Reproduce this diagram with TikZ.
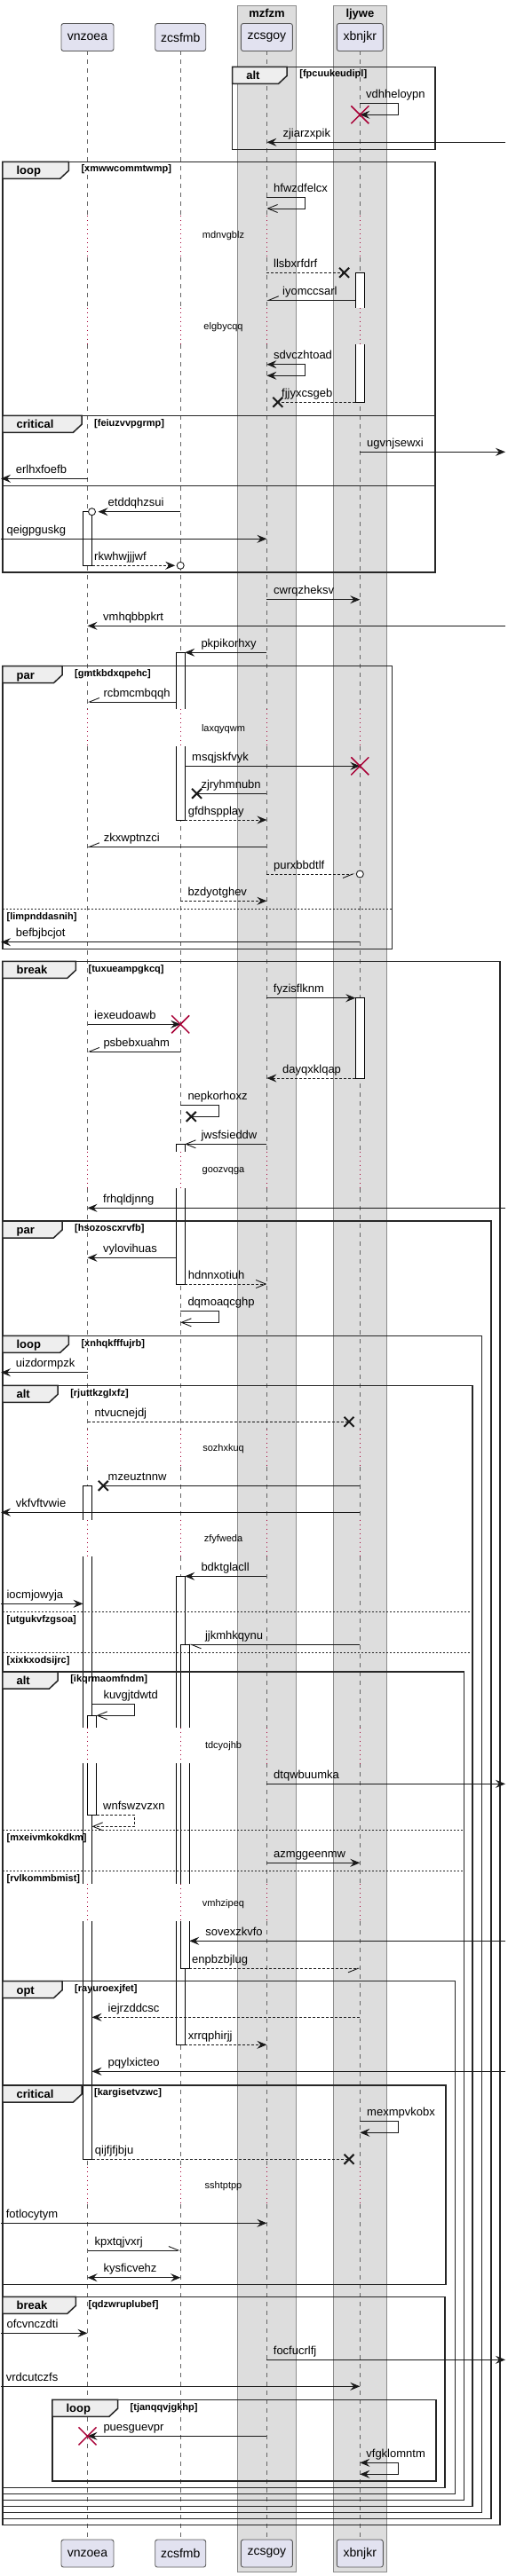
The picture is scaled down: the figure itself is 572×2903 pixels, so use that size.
\documentclass[tikz,border=0pt]{standalone}
\usepackage{fontspec}
\setmainfont{Liberation Sans}
\usetikzlibrary{arrows.meta}
\definecolor{partfill}{HTML}{E2E2F0}
\definecolor{grpfill}{HTML}{DDDDDD}
\definecolor{tabfill}{HTML}{EEEEEE}
\definecolor{crim}{HTML}{A80036}

\begin{document}
\begin{tikzpicture}[x=1pt,y=-1pt,
  >={Stealth[length=11pt,width=9pt,inset=4pt]},
  grp/.style={draw=black!45,fill=grpfill,line width=1pt},
  part/.style={draw=black!65,fill=partfill,line width=0.9pt,rounded corners=2.5pt,
    minimum height=31pt,inner sep=0pt,font=\fontsize{14}{16}\selectfont},
  ttl/.style={anchor=base,inner sep=0pt,font=\bfseries\fontsize{13}{15}\selectfont},
  life/.style={draw=black!60,line width=0.9pt,dash pattern=on 5pt off 5pt},
  delay/.style={draw=crim,line width=1pt,dash pattern=on 1pt off 4pt},
  dly/.style={inner sep=0pt,font=\fontsize{11}{13}\selectfont},
  fragbox/.style={draw=black!85,line width=1.5pt},
  tab/.style={draw=black!85,fill=tabfill,line width=1.5pt},
  sepline/.style={draw=black!85,line width=0.9pt,dash pattern=on 2pt off 2pt},
  kind/.style={anchor=base west,inner sep=0pt,font=\bfseries\fontsize{13}{15}\selectfont},
  cond/.style={anchor=base west,inner sep=0pt,font=\bfseries\fontsize{11}{13}\selectfont},
  actbar/.style={draw=black,fill=white,line width=0.9pt},
  barline/.style={draw=black,line width=0.9pt},
  msg/.style={draw=black!90,line width=0.9pt,->},
  plain/.style={draw=black!90,line width=0.9pt},
  ret/.style={dash pattern=on 3pt off 2pt},
  openhead/.style={-{Straight Barb[length=11pt,width=9pt]}},
  halfl/.style={-{Straight Barb[length=11pt,width=9pt,left]}},
  halfr/.style={-{Straight Barb[length=11pt,width=9pt,right]}},
  twoway/.style={<->},
  circ/.style={draw=black!90,fill=white,line width=0.9pt},
  kill/.style={draw=crim,line width=1.5pt},
  lost/.style={draw=black!90,line width=2pt},
  lbl/.style={anchor=base west,inner sep=0pt,font=\fontsize{13}{15}\selectfont}]
\useasboundingbox (0,0) rectangle (572,2903);
% boxes
\draw[grp] (267.6,6.3) rectangle (333.5,2898.3);
\draw[grp] (375.8,6.3) rectangle (435,2898.3);
\node[ttl] (mzfzm) at (300.5,19.5) {mzfzm};
\node[ttl] (ljywe) at (405.4,19.5) {ljywe};
% participants
\node[part,minimum width=59pt] (vnzoea) at (98.5,42) {vnzoea};
\node[part,minimum width=57pt] (zcsfmb) at (203.2,42) {zcsfmb};
\node[part,minimum width=58pt] (zcsgoy) at (300.4,42) {zcsgoy};
\node[part,minimum width=52pt] (xbnjkr) at (405.3,42) {xbnjkr};
\node[part,minimum width=59pt] (vnzoea-b) at (98.5,2877.5) {vnzoea};
\node[part,minimum width=57pt] (zcsfmb-b) at (203.2,2877.5) {zcsfmb};
\node[part,minimum width=58pt] (zcsgoy-b) at (300.4,2877.5) {zcsgoy};
\node[part,minimum width=52pt] (xbnjkr-b) at (405.3,2877.5) {xbnjkr};
\coordinate (lft) at (1,0);
\coordinate (rgt) at (569,0);
% lifelines
\foreach \p in {vnzoea,zcsfmb,zcsgoy,xbnjkr}{
  \coordinate (\p-l) at ([xshift=-5pt]\p.center);
  \coordinate (\p-r) at ([xshift=5pt]\p.center);
  \coordinate (\p-rr) at ([xshift=10pt]\p.center);
  \foreach \a/\b in {57.3/243.3,290/346.7,388.3/799.3,841/1297.6,1339/1610.6,
      1652.6/1712.6,1754/1946.7,1987.3/2123.3,2165/2441.6,2484/2861.7}
    \draw[life] (\p |- 0,\a) -- (\p |- 0,\b);
}
% delays
\foreach \a/\b/\t/\m [count=\i] in {243.3/290/265.7/mdnvgblz,346.7/388.3/368.7/elgbycqq,
    799.3/841/821.3/laxqyqwm,1297.6/1339/1319.3/goozvqga,1610.6/1652.6/1632.3/sozhxkuq,
    1712.6/1754/1734.3/zfyfweda,1946.7/1987.3/1967.3/tdcyojhb,2123.3/2165/2145.3/vmhzipeq,
    2441.6/2484/2463.3/sshtptpp}{
  \foreach \p in {vnzoea,zcsfmb,zcsgoy,xbnjkr}
    \draw[delay] (\p |- 0,\a) -- (\p |- 0,\b);
  \node[dly] (d\i) at (251.5,\t) {\m};
}
% activations
\fill[white] (400.3,307.3) rectangle (410.3,346.7);
\draw[barline] (400.3,346.7) |- (410.3,307.3) -- (410.3,346.7);
\fill[white] (400.3,388.3) rectangle (410.3,453.3);
\draw[barline] (400.3,388.3) |- (410.3,453.3) -- (410.3,388.3);
\draw[actbar] (93.5,576.7) rectangle (103.5,637.3);
\fill[white] (198.2,735.3) rectangle (208.2,799.3);
\draw[barline] (198.2,799.3) |- (208.2,735.3) -- (208.2,799.3);
\fill[white] (198.2,841) rectangle (208.2,924);
\draw[barline] (198.2,841) |- (208.2,924) -- (208.2,841);
\draw[actbar] (400.3,1124.7) rectangle (410.3,1215);
\fill[white] (198.2,1289.3) rectangle (208.2,1297.6);
\draw[barline] (198.2,1297.6) |- (208.2,1289.3) -- (208.2,1297.6);
\fill[white] (198.2,1339) rectangle (208.2,1447);
\draw[barline] (198.2,1339) |- (208.2,1447) -- (208.2,1339);
% vnzoea long bar
\fill[white] (93.5,1674.3) rectangle (103.5,1712.6);
\draw[barline] (93.5,1712.6) |- (103.5,1674.3) -- (103.5,1712.6);
\fill[white] (93.5,1754) rectangle (103.5,1946.7);
\draw[barline] (93.5,1754) -- (93.5,1946.7) (103.5,1754) -- (103.5,1946.7);
\fill[white] (93.5,1987.3) rectangle (103.5,2123.3);
\draw[barline] (93.5,1987.3) -- (93.5,2123.3) (103.5,1987.3) -- (103.5,2123.3);
\fill[white] (93.5,2165) rectangle (103.5,2433.3);
\draw[barline] (93.5,2165) |- (103.5,2433.3) -- (103.5,2165);
\fill[white] (98.5,1933.3) rectangle (108.5,1946.7);
\draw[barline] (98.5,1946.7) |- (108.5,1933.3) -- (108.5,1946.7);
\fill[white] (98.5,1987.3) rectangle (108.5,2045.7);
\draw[barline] (98.5,1987.3) |- (108.5,2045.7) -- (108.5,1987.3);
% zcsfmb long bar
\fill[white] (198.2,1776.3) rectangle (208.2,1946.7);
\draw[barline] (198.2,1946.7) |- (208.2,1776.3) -- (208.2,1946.7);
\fill[white] (198.2,1987.3) rectangle (208.2,2123.3);
\draw[barline] (198.2,1987.3) -- (198.2,2123.3) (208.2,1987.3) -- (208.2,2123.3);
\fill[white] (198.2,2165) rectangle (208.2,2304.3);
\draw[barline] (198.2,2165) |- (208.2,2304.3) -- (208.2,2165);
\fill[white] (203.2,1853.3) rectangle (213.2,1946.7);
\draw[barline] (203.2,1946.7) |- (213.2,1853.3) -- (213.2,1946.7);
\fill[white] (203.2,1987.3) rectangle (213.2,2123.3);
\draw[barline] (203.2,1987.3) -- (203.2,2123.3) (213.2,1987.3) -- (213.2,2123.3);
\fill[white] (203.2,2165) rectangle (213.2,2218.3);
\draw[barline] (203.2,2165) |- (213.2,2218.3) -- (213.2,2165);
% frames
\foreach \xa/\ya/\xb/\yb/\tr/\kd/\cd [count=\i] in {
    261.7/75.3/489.9/168.3/323.2/alt/fpcuukeudipl,
    2.9/182.3/489.9/645/77.3/loop/xmwwcommtwmp,
    2.9/468.3/489.9/547.3/92/critical/feiuzvvpgrmp,
    2.9/750.7/441.3/1069.3/70/par/gmtkbdxqpehc,
    2.9/1083.3/562.8/2845.3/85.4/break/tuxueampgkcq,
    2.9/1376/552.8/2838.3/70/par/hsozoscxrvfb,
    2.9/1505.3/542.5/2831.3/77.3/loop/xnhqkfffujrb,
    2.9/1561.3/532.2/2824.3/65.1/alt/rjuttkzglxfz,
    2.9/1884/522.3/2817.3/65.1/alt/ikqrmaomfndm,
    2.9/2232.7/512.3/2810.3/70/opt/rayuroexjfet,
    2.9/2350/502/2574.3/92/critical/kargisetvzwc,
    2.9/2588.3/500.9/2803.3/85.4/break/qdzwruplubef,
    58.9/2704.3/491/2796/132.5/loop/tjanqqvjgkhp}{
  \draw[fragbox] (\xa,\ya) rectangle (\xb,\yb);
  \draw[tab] (\xa,\ya) -- (\tr,\ya) -- (\tr,\ya+10) -- (\tr-9.6,\ya+19) -- (\xa,\ya+19) -- cycle;
  \node[kind] (k\i) at (\xa+15.5,\ya+14.4) {\kd};
  \node[cond] (c\i) at (\tr+14,\ya+11.7) {[\cd]};
}
\foreach \y/\xb/\cd [count=\i] in {1024.3/441.3/limpnddasnih,1816.3/532.2/utgukvfzgsoa,
    1862.3/532.2/xixkxodsijrc,2062.3/522.3/mxeivmkokdkm,2108.3/522.3/rvlkommbmist}{
  \draw[sepline] (2.9,\y) -- (\xb,\y);
  \node[cond] (s\i) at (7.4,\y+11.7) {[\cd]};
}
% alt fpcuukeudipl
\draw[msg] (xbnjkr |- 0,116.3) -- ++(43,0) -- ++(0,13) -- (xbnjkr |- 0,129.3);
\draw[kill] (xbnjkr |- 0,129.3) +(-10,-10) -- +(10,10) +(-10,10) -- +(10,-10);
\node[lbl] (vdhheloypn) at (412,110.3) {vdhheloypn};
\draw[msg] (rgt |- 0,160.3) -- (zcsgoy |- 0,160.3);
\node[lbl] (zjiarzxpik) at (318.4,154.3) {zjiarzxpik};
% loop xmwwcommtwmp
\draw[msg,openhead] (zcsgoy |- 0,222.3) -- ++(43,0) -- ++(0,12.7) -- (zcsgoy |- 0,235);
\node[lbl] (hfwzdfelcx) at (308,216.3) {hfwzdfelcx};
\coordinate (lost1) at (387.6,307.3);
\draw[plain,ret] (zcsgoy |- lost1) -- (lost1);
\draw[lost] (lost1) +(-5.5,-5.5) -- +(5.5,5.5) +(-5.5,5.5) -- +(5.5,-5.5);
\node[lbl] (llsbxrfdrf) at (308,301.3) {llsbxrfdrf};
\draw[msg,halfr] (xbnjkr-l |- 0,338.3) -- (zcsgoy |- 0,338.3);
\node[lbl] (iyomccsarl) at (318,332.3) {iyomccsarl};
\draw[msg,twoway] (zcsgoy |- 0,410.7) -- ++(43,0) -- ++(0,12.6) -- (zcsgoy |- 0,423.3);
\node[lbl] (sdvczhtoad) at (308,404.7) {sdvczhtoad};
\coordinate (lost2) at (312.8,453.3);
\draw[plain,ret] (xbnjkr-l |- lost2) -- (lost2);
\draw[lost] (lost2) +(-5.5,-5.5) -- +(5.5,5.5) +(-5.5,5.5) -- +(5.5,-5.5);
\node[lbl] (fjjyxcsgeb) at (317,447.3) {fjjyxcsgeb};
% critical feiuzvvpgrmp
\draw[msg] (xbnjkr |- 0,509.3) -- (rgt |- 0,509.3);
\node[lbl] (ugvnjsewxi) at (413,503.3) {ugvnjsewxi};
\draw[msg] (vnzoea |- 0,539.3) -- (lft |- 0,539.3);
\node[lbl] (erlhxfoefb) at (17.7,533.3) {erlhxfoefb};
\draw[msg,shorten >=7pt] (zcsfmb |- 0,576.7) -- (vnzoea-r |- 0,576.7);
\draw[circ] (vnzoea-r |- 0,576.7) circle (4);
\node[lbl] (etddqhzsui) at (121.5,570.7) {etddqhzsui};
\draw[msg] (lft |- 0,607.3) -- (zcsgoy |- 0,607.3);
\node[lbl] (qeigpguskg) at (7.4,601.3) {qeigpguskg};
\draw[msg,ret,shorten >=6pt] (vnzoea-r |- 0,637.3) -- (zcsfmb |- 0,637.3);
\draw[circ] (zcsfmb |- 0,637.3) circle (4);
\node[lbl] (rkwhwjjjwf) at (106,631.3) {rkwhwjjjwf};
\draw[msg] (zcsgoy |- 0,675.7) -- (xbnjkr |- 0,675.7);
\node[lbl] (cwrqzheksv) at (308,669.7) {cwrqzheksv};
\draw[msg] (rgt |- 0,705.3) -- (vnzoea |- 0,705.3);
\node[lbl] (vmhqbbpkrt) at (116,699.3) {vmhqbbpkrt};
\draw[msg] (zcsgoy |- 0,735.3) -- (zcsfmb-r |- 0,735.3);
\node[lbl] (pkpikorhxy) at (226.3,729.3) {pkpikorhxy};
% par gmtkbdxqpehc
\draw[msg,halfr] (zcsfmb-l |- 0,791) -- (vnzoea |- 0,791);
\node[lbl] (rcbmcmbqqh) at (116.3,785) {rcbmcmbqqh};
\draw[msg] (zcsfmb-r |- 0,863.3) -- (xbnjkr |- 0,863.3);
\draw[kill] (xbnjkr |- 0,863.3) +(-10,-10) -- +(10,10) +(-10,10) -- +(10,-10);
\node[lbl] (msqjskfvyk) at (216,857.3) {msqjskfvyk};
\coordinate (lost3) at (221.6,894.3);
\draw[plain] (zcsgoy |- lost3) -- (lost3);
\draw[lost] (lost3) +(-5.5,-5.5) -- +(5.5,5.5) +(-5.5,5.5) -- +(5.5,-5.5);
\node[lbl] (zjryhmnubn) at (226.3,888.3) {zjryhmnubn};
\draw[msg,ret] (zcsfmb-r |- 0,924) -- (zcsgoy |- 0,924);
\node[lbl] (gfdhspplay) at (211.6,918) {gfdhspplay};
\draw[msg,halfr] (zcsgoy |- 0,954.3) -- (vnzoea |- 0,954.3);
\node[lbl] (zkxwptnzci) at (116.7,948.3) {zkxwptnzci};
\draw[msg,ret,halfr,shorten >=6pt] (zcsgoy |- 0,985) -- (xbnjkr |- 0,985);
\draw[circ] (xbnjkr |- 0,985) circle (4);
\node[lbl] (purxbbdtlf) at (308,979) {purxbbdtlf};
\draw[msg,ret] (zcsfmb |- 0,1015.3) -- (zcsgoy |- 0,1015.3);
\node[lbl] (bzdyotghev) at (211.3,1009.3) {bzdyotghev};
\draw[msg] (xbnjkr |- 0,1061.7) -- (lft |- 0,1061.7);
\node[lbl] (befbjbcjot) at (17.7,1055.7) {befbjbcjot};
% break tuxueampgkcq
\draw[msg] (zcsgoy |- 0,1124.7) -- (xbnjkr-l |- 0,1124.7);
\node[lbl] (fyzisflknm) at (307.7,1118.7) {fyzisflknm};
\draw[msg] (vnzoea |- 0,1154.3) -- (zcsfmb |- 0,1154.3);
\draw[kill] (zcsfmb |- 0,1154.3) +(-10,-10) -- +(10,10) +(-10,10) -- +(10,-10);
\node[lbl] (iexeudoawb) at (106,1148.3) {iexeudoawb};
\draw[msg,halfr] (zcsfmb |- 0,1185) -- (vnzoea |- 0,1185);
\node[lbl] (psbebxuahm) at (116.3,1179) {psbebxuahm};
\draw[msg,ret] (xbnjkr-l |- 0,1215) -- (zcsgoy |- 0,1215);
\node[lbl] (dayqxklqap) at (318,1209) {dayqxklqap};
\coordinate (lost4) at (215.3,1258.3);
\draw[plain] (zcsfmb |- 0,1245.3) -- ++(43.4,0) -- ++(0,13) -- (lost4);
\draw[lost] (lost4) +(-5.5,-5.5) -- +(5.5,5.5) +(-5.5,5.5) -- +(5.5,-5.5);
\node[lbl] (nepkorhoxz) at (211.3,1239.3) {nepkorhoxz};
\draw[msg,openhead] (zcsgoy |- 0,1289.3) -- (zcsfmb-r |- 0,1289.3);
\node[lbl] (jwsfsieddw) at (226.3,1283.3) {jwsfsieddw};
\draw[msg] (rgt |- 0,1361.3) -- (vnzoea |- 0,1361.3);
\node[lbl] (frhqldjnng) at (116,1355.3) {frhqldjnng};
% par hsozoscxrvfb
\draw[msg] (zcsfmb-l |- 0,1417.3) -- (vnzoea |- 0,1417.3);
\node[lbl] (vylovihuas) at (116,1411.3) {vylovihuas};
\draw[msg,ret,openhead] (zcsfmb-r |- 0,1447) -- (zcsgoy |- 0,1447);
\node[lbl] (hdnnxotiuh) at (211.6,1441) {hdnnxotiuh};
\draw[msg,openhead] (zcsfmb |- 0,1477.7) -- ++(43.4,0) -- ++(0,12.6) -- (zcsfmb |- 0,1490.3);
\node[lbl] (dqmoaqcghp) at (211.3,1471.7) {dqmoaqcghp};
% loop xnhqkfffujrb
\draw[msg] (vnzoea |- 0,1546.7) -- (lft |- 0,1546.7);
\node[lbl] (uizdormpzk) at (17.7,1540.7) {uizdormpzk};
% alt rjuttkzglxfz
\coordinate (lost5) at (393,1602.3);
\draw[plain,ret] (vnzoea |- lost5) -- (lost5);
\draw[lost] (lost5) +(-5.5,-5.5) -- +(5.5,5.5) +(-5.5,5.5) -- +(5.5,-5.5);
\node[lbl] (ntvucnejdj) at (106.4,1596.3) {ntvucnejdj};
\coordinate (lost6) at (116.3,1674.3);
\draw[plain] (xbnjkr |- lost6) -- (lost6);
\draw[lost] (lost6) +(-5.5,-5.5) -- +(5.5,5.5) +(-5.5,5.5) -- +(5.5,-5.5);
\node[lbl] (mzeuztnnw) at (121.5,1668.3) {mzeuztnnw};
\draw[msg] (xbnjkr |- 0,1704.3) -- (lft |- 0,1704.3);
\node[lbl] (vkfvftvwie) at (17.7,1698.3) {vkfvftvwie};
\draw[msg] (zcsgoy |- 0,1776.3) -- (zcsfmb-r |- 0,1776.3);
\node[lbl] (bdktglacll) at (226.3,1770.3) {bdktglacll};
\draw[msg] (lft |- 0,1807.3) -- (vnzoea-l |- 0,1807.3);
\node[lbl] (iocmjowyja) at (7.4,1801.3) {iocmjowyja};
\draw[msg,halfl] (xbnjkr |- 0,1853.3) -- (zcsfmb-rr |- 0,1853.3);
\node[lbl] (jjkmhkqynu) at (230.8,1847.3) {jjkmhkqynu};
% alt ikqrmaomfndm
\draw[msg,openhead] (vnzoea-r |- 0,1920.7) -- ++(48.1,0) -- ++(0,12.6) -- (vnzoea-rr |- 0,1933.3);
\node[lbl] (kuvgjtdwtd) at (116.3,1914.7) {kuvgjtdwtd};
\draw[msg] (zcsgoy |- 0,2010.3) -- (rgt |- 0,2010.3);
\node[lbl] (dtqwbuumka) at (308,2004.3) {dtqwbuumka};
\draw[msg,ret,openhead] (vnzoea-rr |- 0,2045.7) -- ++(43.1,0) -- ++(0,12.6) -- (vnzoea-r |- 0,2058.3);
\node[lbl] (wnfswzvzxn) at (116,2039.7) {wnfswzvzxn};
\draw[msg] (zcsgoy |- 0,2099.3) -- (xbnjkr |- 0,2099.3);
\node[lbl] (azmggeenmw) at (308,2093.3) {azmggeenmw};
\draw[msg] (rgt |- 0,2187.3) -- (zcsfmb-rr |- 0,2187.3);
\node[lbl] (sovexzkvfo) at (231.1,2181.3) {sovexzkvfo};
\draw[msg,ret,halfr] (zcsfmb-rr |- 0,2218.3) -- (xbnjkr |- 0,2218.3);
\node[lbl] (enpbzbjlug) at (216,2212.3) {enpbzbjlug};
% opt rayuroexjfet
\draw[msg,ret] (xbnjkr |- 0,2273.3) -- (vnzoea-r |- 0,2273.3);
\node[lbl] (iejrzddcsc) at (121.5,2267.3) {iejrzddcsc};
\draw[msg,ret] (zcsfmb-r |- 0,2304.3) -- (zcsgoy |- 0,2304.3);
\node[lbl] (xrrqphirjj) at (211.6,2298.3) {xrrqphirjj};
\draw[msg] (rgt |- 0,2334.3) -- (vnzoea-r |- 0,2334.3);
\node[lbl] (pqylxicteo) at (121.5,2328.3) {pqylxicteo};
% critical kargisetvzwc
\draw[msg] (xbnjkr |- 0,2390.3) -- ++(43,0) -- ++(0,13) -- (xbnjkr |- 0,2403.3);
\node[lbl] (mexmpvkobx) at (413,2384.3) {mexmpvkobx};
\coordinate (lost7) at (393,2433.3);
\draw[plain,ret] (vnzoea-r |- lost7) -- (lost7);
\draw[lost] (lost7) +(-5.5,-5.5) -- +(5.5,5.5) +(-5.5,5.5) -- +(5.5,-5.5);
\node[lbl] (qijfjfjbju) at (106.7,2427.3) {qijfjfjbju};
\draw[msg] (lft |- 0,2505.3) -- (zcsgoy |- 0,2505.3);
\node[lbl] (fotlocytym) at (6.6,2499.3) {fotlocytym};
\draw[msg,halfl] (vnzoea |- 0,2536) -- (zcsfmb |- 0,2536);
\node[lbl] (kpxtqjvxrj) at (106.4,2530) {kpxtqjvxrj};
\draw[msg,twoway] (vnzoea |- 0,2566.7) -- (zcsfmb |- 0,2566.7);
\node[lbl] (kysficvehz) at (116.3,2560.7) {kysficvehz};
% break qdzwruplubef
\draw[msg] (lft |- 0,2629.3) -- (vnzoea |- 0,2629.3);
\node[lbl] (ofcvnczdti) at (7.4,2623.3) {ofcvnczdti};
\draw[msg] (zcsgoy |- 0,2659.3) -- (rgt |- 0,2659.3);
\node[lbl] (focfucrlfj) at (307.7,2653.3) {focfucrlfj};
\draw[msg] (lft |- 0,2689.3) -- (xbnjkr |- 0,2689.3);
\node[lbl] (vrdcutczfs) at (6.6,2683.3) {vrdcutczfs};
% loop tjanqqvjgkhp
\draw[msg] (zcsgoy |- 0,2745.3) -- (vnzoea |- 0,2745.3);
\draw[kill] (vnzoea |- 0,2745.3) +(-10,-10) -- +(10,10) +(-10,10) -- +(10,-10);
\node[lbl] (puesguevpr) at (116.3,2739.3) {puesguevpr};
\draw[msg,twoway] (xbnjkr |- 0,2775.3) -- ++(43,0) -- ++(0,13) -- (xbnjkr |- 0,2788.3);
\node[lbl] (vfgklomntm) at (412.2,2769.3) {vfgklomntm};
\end{tikzpicture}
\end{document}
